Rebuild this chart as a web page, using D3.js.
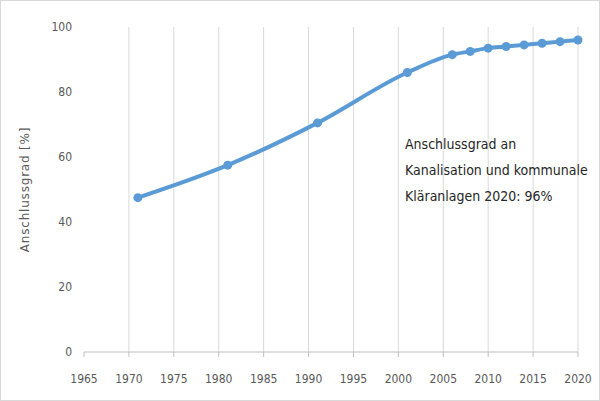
<!DOCTYPE html>
<html><head><meta charset="utf-8">
<script src="https://cdn.jsdelivr.net/npm/d3@7"></script>
<style>body{margin:0;background:#fff}text{font-family:"Liberation Sans Narrow","DejaVu Sans Condensed",sans-serif}</style>
</head><body><svg id="c" width="600" height="401"></svg>
<script>
years = [1971, 1981, 1991, 2001, 2006, 2008, 2010, 2012, 2014, 2016, 2018, 2020];
grad = [47.5, 57.5, 70.5, 86, 91.5, 92.5, 93.5, 94, 94.5, 95, 95.5, 96];
xTicks = [1965, 1970, 1975, 1980, 1985, 1990, 1995, 2000, 2005, 2010, 2015, 2020];
yTicks = [0, 20, 40, 60, 80, 100];

var svg = d3.select("#c");
var x = d3.scaleLinear().domain([1965, 2020]).range([84, 578]);
var y = d3.scaleLinear().domain([0, 100]).range([352, 27]);

svg.append("rect").attr("x", 0.5).attr("y", 0.5).attr("width", 599).attr("height", 400)
  .attr("fill", "none").attr("stroke", "#d9d9d9");

svg.selectAll(".vg").data(xTicks.slice(1)).enter().append("line")
  .attr("x1", d => x(d)).attr("x2", d => x(d)).attr("y1", y(100)).attr("y2", y(0))
  .attr("stroke", "#d9d9d9");
svg.append("line").attr("x1", x(1965)).attr("x2", x(2020)).attr("y1", y(0)).attr("y2", y(0))
  .attr("stroke", "#bfbfbf");
svg.selectAll(".xt").data(xTicks).enter().append("line")
  .attr("x1", d => x(d)).attr("x2", d => x(d)).attr("y1", y(0)).attr("y2", y(0) + 5)
  .attr("stroke", "#bfbfbf");

svg.selectAll(".xl").data(xTicks).enter().append("text")
  .attr("x", d => x(d)).attr("y", 383).attr("text-anchor", "middle")
  .attr("font-size", 12).attr("fill", "#595959").text(d => d);
svg.selectAll(".yl").data(yTicks).enter().append("text")
  .attr("x", 72).attr("y", d => y(d) + 4).attr("text-anchor", "end")
  .attr("font-size", 12).attr("fill", "#595959").text(d => d);

svg.append("text").attr("transform", "translate(29," + y(50) + ") rotate(-90)")
  .attr("text-anchor", "middle").attr("fill", "#595959")
  .style("font-family", "DejaVu Sans, sans-serif").style("font-size", "12px")
  .style("letter-spacing", "0.8px")
  .text("Anschlussgrad [%]");

var line = d3.line().x((d, i) => x(years[i])).y(d => y(d)).curve(d3.curveMonotoneX);
svg.append("path").datum(grad).attr("d", line).attr("fill", "none")
  .attr("stroke", "#5b9bd5").attr("stroke-width", 4).attr("stroke-linecap", "round");
svg.selectAll(".pt").data(grad).enter().append("circle")
  .attr("cx", (d, i) => x(years[i])).attr("cy", d => y(d)).attr("r", 4.5).attr("fill", "#5b9bd5");

var note = ["Anschlussgrad an", "Kanalisation und kommunale", "Kläranlagen 2020: 96%"];
svg.selectAll(".nt").data(note).enter().append("text")
  .attr("x", 405).attr("y", (d, i) => 149 + i * 26)
  .attr("font-size", 14).attr("fill", "#262626").text(d => d);
</script></body></html>
